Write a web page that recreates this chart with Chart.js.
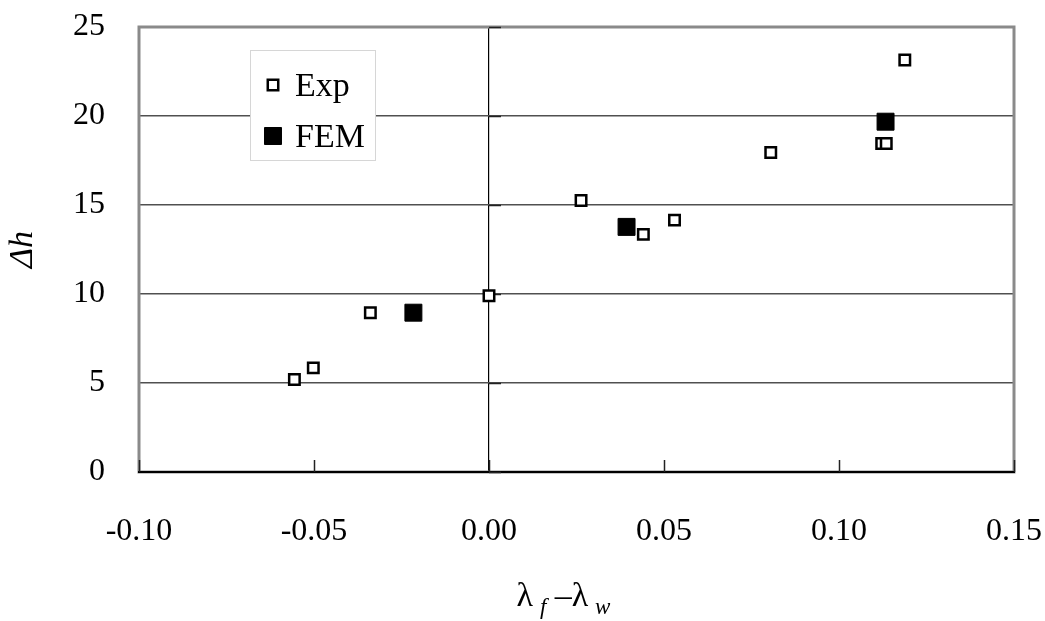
<!DOCTYPE html>
<html>
<head>
<meta charset="utf-8">
<script src="https://cdn.jsdelivr.net/npm/chart.js@4/dist/chart.umd.min.js"></script>
<style>
  html, body { margin: 0; padding: 0; background: #ffffff; }
  #wrap { width: 1045px; height: 621px; }
</style>
</head>
<body>
<div id="wrap"><canvas id="c" width="1045" height="621"></canvas></div>
<script>
// Measured points: λf − λw against Δh
const expX = [-0.0556, -0.0502, -0.0339, 0.0000, 0.0263, 0.0441, 0.0530, 0.0805, 0.1122, 0.1135, 0.1188];
const expY = [5.20, 5.85, 8.95, 9.90, 15.25, 13.35, 14.15, 17.95, 18.45, 18.45, 23.15];
// Finite element results
const femX = [-0.0216, 0.0393, 0.1133];
const femY = [8.95, 13.77, 19.68];

const seriesNames = ['Exp', 'FEM'];
const xTickValues = [-0.10, -0.05, 0.00, 0.05, 0.10, 0.15];
const yTickValues = [0, 5, 10, 15, 20, 25];
const yTitle = 'Δh';

const SERIF = '"Liberation Serif", "DejaVu Serif", serif';
Chart.defaults.font.family = SERIF;
Chart.defaults.color = '#000000';

const toPoints = (xs, ys) => xs.map((x, i) => ({ x: x, y: ys[i] }));
const isZero = v => Math.abs(v) < 1e-9;
// edge labels may overhang the plot frame; no extra margin for them
const noOverhang = s => { s.paddingTop = 0; s.paddingBottom = 0; s.paddingLeft = 0; s.paddingRight = 0; };

// Grey frame, black base line, inner tick marks
const framePlugin = {
  id: 'frame',
  beforeDatasetsDraw(chart) {
    const { ctx, chartArea: a, scales } = chart;
    ctx.save();
    ctx.strokeStyle = '#8a8a8a';
    ctx.lineWidth = 3;
    ctx.strokeRect(a.left, a.top, a.right - a.left, a.bottom - a.top);
    ctx.strokeStyle = '#000000';
    ctx.lineWidth = 2;
    ctx.beginPath();
    ctx.moveTo(a.left - 1, a.bottom);
    ctx.lineTo(a.right + 1, a.bottom);
    ctx.stroke();
    // tick marks pointing up from the base line
    ctx.lineWidth = 1.5;
    ctx.strokeStyle = '#222222';
    xTickValues.forEach(v => {
      const px = Math.round(scales.x.getPixelForValue(v)) + 0.5;
      ctx.beginPath();
      ctx.moveTo(px, a.bottom);
      ctx.lineTo(px, a.bottom - 12);
      ctx.stroke();
    });
    // y axis crosses at x = 0: its tick marks point right
    const x0 = scales.x.getPixelForValue(0);
    yTickValues.forEach(v => {
      const py = scales.y.getPixelForValue(v);
      ctx.beginPath();
      ctx.moveTo(x0, py + 0.5);
      ctx.lineTo(x0 + 12, py + 0.5);
      ctx.stroke();
    });
    ctx.restore();
  }
};

// Boxed legend inside the plot area
const legendPlugin = {
  id: 'boxLegend',
  afterDatasetsDraw(chart) {
    const { ctx, chartArea: a } = chart;
    const bx = a.left + 111, by = a.top + 23, bw = 125, bh = 110;
    ctx.save();
    ctx.fillStyle = '#ffffff';
    ctx.fillRect(bx, by, bw, bh);
    ctx.strokeStyle = '#d6d6d6';
    ctx.lineWidth = 1;
    ctx.strokeRect(bx + 0.5, by + 0.5, bw, bh);
    chart.data.datasets.forEach((ds, i) => {
      const cy = by + 35 + i * 51;
      ctx.fillStyle = ds.pointBackgroundColor;
      ctx.strokeStyle = ds.pointBorderColor;
      ctx.lineWidth = ds.pointBorderWidth;
      Chart.helpers.drawPoint(ctx, {
        pointStyle: 'rect', rotation: 0,
        radius: ds.pointRadius, borderWidth: ds.pointBorderWidth
      }, bx + 23, cy);
      ctx.fillStyle = '#000000';
      ctx.font = '34px ' + SERIF;
      ctx.textAlign = 'left';
      ctx.textBaseline = 'middle';
      ctx.fillText(ds.label, bx + 45, cy + 2);
    });
    ctx.restore();
  }
};

// x axis title with italic subscripts: λf − λw
const xTitlePlugin = {
  id: 'xTitle',
  afterDraw(chart) {
    const { ctx, scales } = chart;
    const s = scales.x;
    const big = '34px ' + SERIF;
    const sub = 'italic 23px ' + SERIF;
    const runs = [
      { t: 'λ', f: big, dy: 0 },
      { t: '\u2009', f: big, dy: 0 },
      { t: 'f', f: sub, dy: 8 },
      { t: ' –', f: big, dy: 0 },
      { t: 'λ', f: big, dy: 0 },
      { t: '\u2009', f: big, dy: 0 },
      { t: 'w', f: sub, dy: 8 }
    ];
    ctx.save();
    let total = 0;
    runs.forEach(r => { ctx.font = r.f; r.w = ctx.measureText(r.t).width; total += r.w; });
    let x = (s.left + s.right) / 2 - 13 - total / 2;
    const y = s.bottom - 15;
    ctx.fillStyle = '#000000';
    ctx.textAlign = 'left';
    ctx.textBaseline = 'alphabetic';
    runs.forEach(r => { ctx.font = r.f; ctx.fillText(r.t, x, y + r.dy); x += r.w; });
    ctx.restore();
  }
};

new Chart(document.getElementById('c'), {
  type: 'scatter',
  data: {
    datasets: [
      {
        label: seriesNames[0],
        data: toPoints(expX, expY),
        pointStyle: 'rect',
        pointRadius: 7.4,
        pointHoverRadius: 7.4,
        pointBackgroundColor: '#ffffff',
        pointBorderColor: '#000000',
        pointBorderWidth: 2.5,
        order: 1
      },
      {
        label: seriesNames[1],
        data: toPoints(femX, femY),
        pointStyle: 'rect',
        pointRadius: 12,
        pointHoverRadius: 12,
        pointBackgroundColor: '#000000',
        pointBorderColor: '#000000',
        pointBorderWidth: 1,
        order: 2
      }
    ]
  },
  options: {
    responsive: false,
    animation: false,
    events: [],
    layout: { padding: { top: 27, right: 31, left: 0, bottom: 0 } },
    plugins: {
      legend: { display: false },
      tooltip: { enabled: false }
    },
    scales: {
      x: {
        type: 'linear',
        min: xTickValues[0],
        max: xTickValues[xTickValues.length - 1],
        afterFit: s => { s.height = 149; noOverhang(s); },
        afterBuildTicks: s => { s.ticks = xTickValues.map(v => ({ value: v })); },
        border: { display: false },
        grid: {
          drawTicks: false,
          color: c => (c.tick && isZero(c.tick.value)) ? '#000000' : 'rgba(0,0,0,0)',
          lineWidth: 1.2
        },
        ticks: {
          padding: 40,
          font: { size: 32 },
          color: '#000000',
          callback: v => v.toFixed(2)
        },
        title: { display: false }
      },
      y: {
        type: 'linear',
        min: yTickValues[0],
        max: yTickValues[yTickValues.length - 1],
        afterFit: s => { s.width = 139; noOverhang(s); },
        afterBuildTicks: s => { s.ticks = yTickValues.map(v => ({ value: v })); },
        border: { display: false },
        grid: {
          drawTicks: false,
          color: c => (c.tick && c.tick.value > 0 && c.tick.value < 25) ? '#505050' : 'rgba(0,0,0,0)',
          lineWidth: 1.5
        },
        ticks: {
          padding: 34,
          font: { size: 32 },
          color: '#000000'
        },
        title: {
          display: true,
          text: yTitle,
          font: { size: 34, style: 'italic', lineHeight: 1.2 },
          color: '#000000',
          padding: { top: 3, bottom: 0 }
        }
      }
    }
  },
  plugins: [framePlugin, legendPlugin, xTitlePlugin]
});
</script>
</body>
</html>
